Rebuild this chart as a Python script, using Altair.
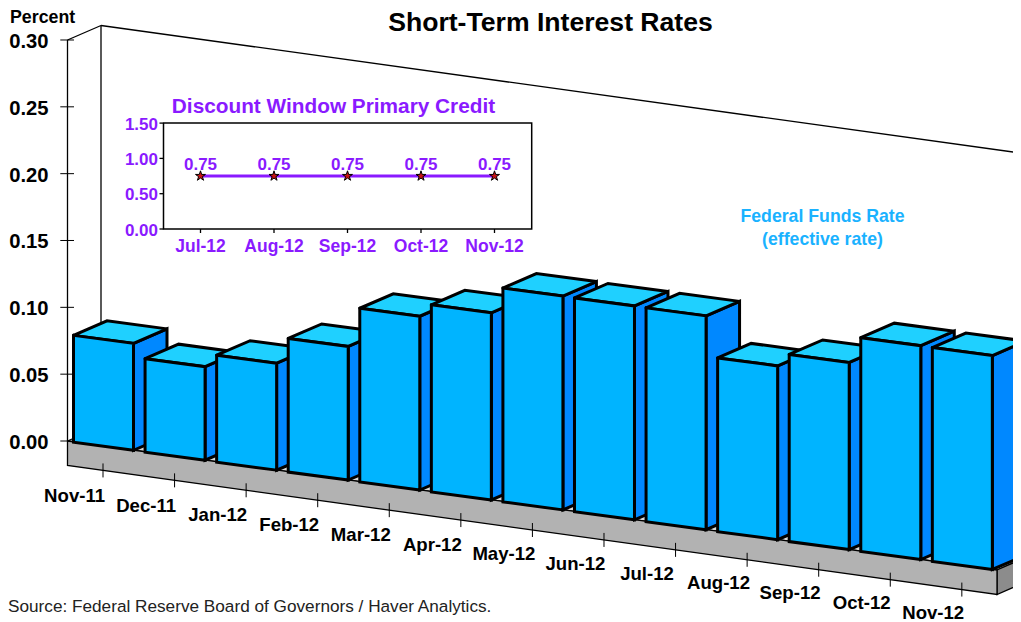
import altair as alt
import pandas as pd

# ---- values ----
months = ["Nov-11", "Dec-11", "Jan-12", "Feb-12", "Mar-12", "Apr-12", "May-12",
          "Jun-12", "Jul-12", "Aug-12", "Sep-12", "Oct-12", "Nov-12"]
rates = [0.08, 0.07, 0.08, 0.10, 0.13, 0.14, 0.16, 0.16, 0.16, 0.13, 0.14, 0.16, 0.16]
y_ticks = [0.00, 0.05, 0.10, 0.15, 0.20, 0.25, 0.30]
inset_months = ["Jul-12", "Aug-12", "Sep-12", "Oct-12", "Nov-12"]
inset_values = [0.75, 0.75, 0.75, 0.75, 0.75]
inset_ticks = [0.00, 0.50, 1.00, 1.50]

# ---- oblique projection (page pixels) ----
FONT = "Liberation Sans"
Y0, PER = 441.0, 1336.7           # value -> height
AX = 67.5                         # front axis x
STEP_X, STEP_Y = 71.57, 9.93      # one category along the floor
DX, DY = 33.5, -14.5              # depth vector
BAR_W, BAR_S = 60.0, 8.0          # bar width and its slant
BAR_X, BAR_Y = 73.5, 442.3        # first bar's front-left foot
SLAB = 24.5
FLOOR_R = (997.0, 570.0)

PURPLE, BLUE_TXT = "#8a1aff", "#1ab2ff"
C_FRONT, C_SIDE, C_TOP = "#00b4ff", "#0088ff", "#1fd0ff"
C_SLAB, C_SLAB_SIDE, C_FLOOR = "#b2b2b2", "#8c8c8c", "#d9d9d9"


def val_y(v):
    return Y0 - PER * v


def in_x(i):
    return 200.5 + 73.5 * i


def in_y(v):
    return 229.0 - 70.6 * v


X = alt.X("x:Q", axis=None, scale=alt.Scale(domain=[8, 1013], range=[0, 1005], nice=False, zero=False))
Y = alt.Y("y:Q", axis=None, scale=alt.Scale(domain=[8, 622], range=[0, 614], nice=False, zero=False))


def polys_layer(polys, width):
    rows = []
    for pid, (face, pts) in enumerate(polys):
        closed = list(pts) + [pts[0]]
        for s, (x, y) in enumerate(closed):
            rows.append({"poly": f"p{pid:03d}", "face": face, "seq": s, "x": x, "y": y})
    faces = ["front", "side", "top", "slab", "slabside", "floor", "white"]
    cols = [C_FRONT, C_SIDE, C_TOP, C_SLAB, C_SLAB_SIDE, C_FLOOR, "#ffffff"]
    return alt.Chart(pd.DataFrame(rows)).mark_line(
        stroke="black", strokeWidth=width, strokeJoin="miter", strokeCap="round", strokeMiterLimit=2.5
    ).encode(
        x=X, y=Y,
        fill=alt.Fill("face:N", scale=alt.Scale(domain=faces, range=cols), legend=None),
        detail="poly:N", order="seq:Q",
    )


def segs_layer(segs, width, color="black"):
    rows = []
    for i, ((x1, y1), (x2, y2)) in enumerate(segs):
        rows.append({"x": x1, "y": y1, "x2": x2, "y2": y2, "k": i})
    return alt.Chart(pd.DataFrame(rows)).mark_rule(stroke=color, strokeWidth=width).encode(
        x=X, y=Y, x2="x2:Q", y2="y2:Q", detail="k:N"
    )


def text_layer(rows, size, color="black", align="center", weight="bold"):
    return alt.Chart(pd.DataFrame(rows)).mark_text(
        font=FONT, fontSize=size, fontWeight=weight, color=color, align=align, baseline="middle"
    ).encode(x=X, y=Y, text="t:N")


# ---- walls and axis ----
wall_end = 1040.0
walls = [
    ((AX, Y0), (AX, val_y(0.30))),
    ((AX, val_y(0.30)), (AX + DX, val_y(0.30) + DY)),
    ((AX + DX, Y0 + DY), (AX + DX, val_y(0.30) + DY)),
    ((AX + DX, val_y(0.30) + DY), (wall_end, val_y(0.30) + DY + (wall_end - AX - DX) * STEP_Y / STEP_X)),
]
y_tick_segs = [((60.3, val_y(v)), (74.0, val_y(v))) for v in y_ticks]

# ---- slab ----
fx, fy = FLOOR_R
slab_polys = [
    ("floor", [(AX, Y0), (fx, fy), (fx + DX, fy + DY), (AX + DX, Y0 + DY)]),
    ("slabside", [(fx, fy), (fx + DX, fy + DY), (fx + DX, fy + DY + SLAB), (fx, fy + SLAB)]),
    ("slab", [(AX, Y0), (fx, fy), (fx, fy + SLAB), (AX, Y0 + SLAB)]),
]

# ---- bars, painted left to right ----
bar_polys = []
for i, r in enumerate(rates):
    x = BAR_X + STEP_X * i
    b = BAR_Y + STEP_Y * i
    t = b - PER * r
    xr = x + BAR_W
    bar_polys.append(("side", [(xr, t + BAR_S), (xr + DX, t + BAR_S + DY), (xr + DX, b + BAR_S + DY), (xr, b + BAR_S)]))
    bar_polys.append(("top", [(x, t), (xr, t + BAR_S), (xr + DX, t + BAR_S + DY), (x + DX, t + DY)]))
    bar_polys.append(("front", [(x, t), (xr, t + BAR_S), (xr, b + BAR_S), (x, b)]))

# ---- category ticks and labels ----
cat_tick_segs = []
for i in range(len(months)):
    tx = 103.0 + STEP_X * i
    ty = Y0 + SLAB + (tx - AX) * STEP_Y / STEP_X
    cat_tick_segs.append(((tx, ty - 7), (tx, ty + 7)))
month_rows = [{"x": 74.6 + 71.55 * i, "y": 496.0 + 9.72 * i, "t": m} for i, m in enumerate(months)]
y_rows = [{"x": 48.5, "y": val_y(v) + 2, "t": f"{v:.2f}"} for v in y_ticks]

# ---- inset ----
inset_frame = [("white", [(163.5, in_y(1.5)), (531.7, in_y(1.5)), (531.7, in_y(0)), (163.5, in_y(0))])]
inset_segs = [((159.5, in_y(v)), (163.5, in_y(v))) for v in inset_ticks]
inset_segs += [((in_x(i), in_y(0)), (in_x(i), in_y(0) + 4)) for i in range(len(inset_months))]
inset_df = pd.DataFrame({"x": [in_x(i) for i in range(len(inset_values))], "y": [in_y(v) for v in inset_values]})
inset_line = alt.Chart(inset_df).mark_line(stroke=PURPLE, strokeWidth=3).encode(x=X, y=Y)
STAR = ("M0,-1L0.224,-0.309L0.951,-0.309L0.363,0.118L0.588,0.809L0,0.382"
        "L-0.588,0.809L-0.363,0.118L-0.951,-0.309L-0.224,-0.309Z")
inset_pts = alt.Chart(inset_df).mark_point(
    shape=STAR, size=110, filled=True, fill="#c81414", stroke="black", strokeWidth=1, opacity=1
).encode(x=X, y=Y)

layers = [
    segs_layer(walls, 1.3),
    segs_layer(y_tick_segs, 1.0),
    polys_layer(slab_polys, 1.3),
    polys_layer(bar_polys, 3),
    segs_layer(cat_tick_segs, 1.0),
    polys_layer(inset_frame, 1.5),
    segs_layer(inset_segs, 1.3),
    inset_line,
    inset_pts,
    text_layer([{"x": 550.5, "y": 22.5, "t": "Short-Term Interest Rates"}], 26.6),
    text_layer([{"x": 10, "y": 18, "t": "Percent"}], 17.8, align="left"),
    text_layer(y_rows, 20.2, align="right"),
    text_layer(month_rows, 18.6),
    text_layer([{"x": 8, "y": 606.5, "t": "Source: Federal Reserve Board of Governors / Haver Analytics."}],
               17.2, color="#222222", align="left", weight="normal"),
    text_layer([{"x": 333.5, "y": 107, "t": "Discount Window Primary Credit"}], 20.8, color=PURPLE),
    text_layer([{"x": 158, "y": in_y(v) + 1.5, "t": f"{v:.2f}"} for v in inset_ticks], 17, color=PURPLE, align="right"),
    text_layer([{"x": in_x(i), "y": 246.5, "t": m} for i, m in enumerate(inset_months)], 17.5, color=PURPLE),
    text_layer([{"x": in_x(i), "y": 165, "t": f"{v:.2f}"} for i, v in enumerate(inset_values)], 17, color=PURPLE),
    text_layer([{"x": 822.5, "y": 217, "t": "Federal Funds Rate"}], 17.7, color=BLUE_TXT),
    text_layer([{"x": 822.5, "y": 240, "t": "(effective rate)"}], 17.7, color=BLUE_TXT),
]

chart = alt.layer(*layers).properties(
    width=1005, height=614, padding=0, autosize=alt.AutoSizeParams(type="none"), background="white"
).configure_view(stroke=None)

chart.save("out.html", embed_options={"renderer": "svg", "actions": False})
